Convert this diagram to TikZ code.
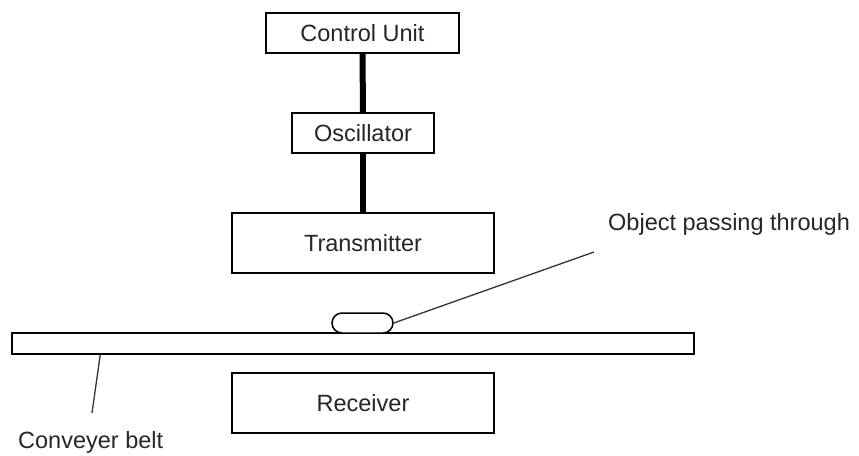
\documentclass[tikz,border=0pt]{standalone}
\usepackage{fontspec}
\setmainfont{Liberation Sans}
\begin{document}
\begin{tikzpicture}[x=1pt,y=-1pt,
  box/.style={draw=black, line width=1.5pt, fill=white, inner sep=0pt,
    font=\fontsize{23.5}{28}\selectfont, text=black!85},
  label/.style={inner sep=0pt, font=\fontsize{23.5}{28}\selectfont, text=black!85},
  thick link/.style={line width=6pt, black},
  leader/.style={line width=1.3pt, black!80}]
\useasboundingbox (0,0) rectangle (859,455);
\node[box, minimum width=193pt, minimum height=40pt] (cu) at (362.5,33) {Control Unit};
\node[box, minimum width=142pt, minimum height=40pt] (osc) at (363,133) {Oscillator};
\node[box, minimum width=262pt, minimum height=60pt] (tx) at (363,243) {Transmitter};
\node[box, minimum width=682pt, minimum height=21pt] (belt) at (353,343.5) {};
\node[box, minimum width=262pt, minimum height=60pt] (rx) at (363,403) {Receiver};
\node[box, minimum width=61pt, minimum height=20pt, rounded corners=10pt] (obj) at (362.5,323) {};
\node[label, anchor=base west] (objtxt) at (608,230) {Object passing through};
\node[label, anchor=base west] (belttxt) at (18,448) {Conveyer belt};
\coordinate (objend) at (594,252);
\coordinate (beltend) at (92,413);
\draw[thick link] (cu.south) -- (osc.north);
\draw[thick link] (osc.south) -- (tx.north);
\draw[leader] (obj.east) -- (objend);
\draw[leader] ([xshift=89pt]belt.south west) -- (beltend);
\end{tikzpicture}
\end{document}
